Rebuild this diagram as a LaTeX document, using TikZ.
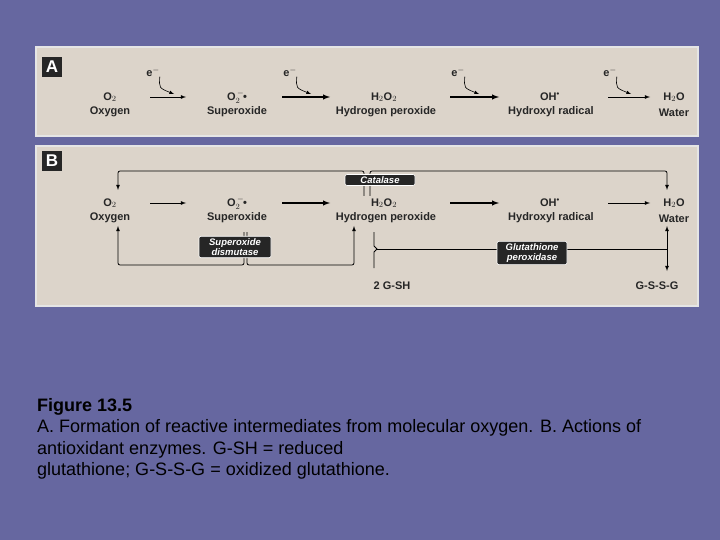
\documentclass[tikz,border=0pt]{standalone}
\usepackage{fontspec}
\setmainfont{Liberation Sans}
\definecolor{bgblue}{HTML}{6667A0}
\definecolor{panel}{HTML}{DCD4CA}
\begin{document}
\begin{tikzpicture}[x=1pt,y=-1pt,
  lbl/.style={font=\fontsize{11}{12}\selectfont\bfseries, text=black!85, inner sep=0pt},
  box/.style={fill=black!85, text=white, rounded corners=2pt, font=\fontsize{9.5}{10.5}\selectfont\bfseries\itshape, align=center, inner sep=2pt, draw=white, line width=0.6pt},
  tag/.style={fill=black!85, text=white, font=\fontsize{17}{17}\selectfont\bfseries, minimum size=20pt, inner sep=0pt},
  rx/.style={-latex, line width=0.8pt},
  ln/.style={line width=0.8pt},
  ee/.style={-latex, line width=0.6pt}]
\useasboundingbox (0,0) rectangle (720,540);
\fill[bgblue] (0,0) rectangle (720,540);
\fill[panel, draw=white!80!gray, line width=1.2pt] (36,47) rectangle (698,136);
\fill[panel, draw=white!80!gray, line width=1.2pt] (36,146) rectangle (698,306);
\node[tag] at (52,67) {A};
\node[tag] at (52,161) {B};
% Panel A
\foreach \y/\p in {97/a,203/b}{
  \node[lbl] (ox\p) at (110,\y) {O$_2$};
  \node[lbl] (su\p) at (237,\y) {O$_2^{\,-}$\hspace{-1pt}\textbullet};
  \node[lbl] (hp\p) at (384,\y) {H$_2$O$_2$};
  \node[lbl] (hr\p) at (550,\y) {OH\textsuperscript{\textbullet}};
  \node[lbl] (wa\p) at (674,\y) {H$_2$O};
  \node[lbl] (oxn\p) at (110,\y+15) {Oxygen};
  \node[lbl] (sun\p) at (237,\y+15) {Superoxide};
  \node[lbl] (hpn\p) at (386,\y+15) {Hydrogen peroxide};
  \node[lbl] (hrn\p) at (551,\y+15) {Hydroxyl radical};
  \node[lbl] (wan\p) at (674,\y+16) {Water};
  \coordinate (a1s\p) at (150,\y); \coordinate (a1e\p) at (186,\y);
  \coordinate (a2s\p) at (282,\y); \coordinate (a2e\p) at (330,\y);
  \coordinate (a3s\p) at (450,\y); \coordinate (a3e\p) at (499,\y);
  \coordinate (a4s\p) at (608,\y); \coordinate (a4e\p) at (650,\y);
  \draw[rx] (a1s\p) -- (a1e\p);
  \draw[rx, line width=1.4pt] (a2s\p) -- (a2e\p);
  \draw[rx, line width=1.4pt] (a3s\p) -- (a3e\p);
  \draw[rx] (a4s\p) -- (a4e\p);
}
\foreach \x/\i in {153/1,290/2,458/3,610/4}{
  \node[lbl] (e\i) at (\x,72) {e$^-$};
  \coordinate (t\i) at (\x+21,94);
  \draw[ee] (e\i.south east) .. controls (\x+6,88) .. (t\i);
}
% Panel B loops
\coordinate (c1) at (118,171); \coordinate (c2) at (364,171);
\coordinate (c3) at (370,171); \coordinate (c4) at (667,171);
\coordinate (c2b) at (364,196); \coordinate (c3b) at (370,196);
\draw[ln, rounded corners=2pt, -latex] (c2b) -- (c2) -- (c1) -- (118,190);
\draw[ln, rounded corners=2pt, -latex] (c3b) -- (c3) -- (c4) -- (667,190);
\node[box, minimum width=70pt] (cat) at (380,180) {Catalase};
\coordinate (s1) at (244,232); \coordinate (s2) at (247,232);
\draw[ln, rounded corners=2pt, -latex] (s1) -- (244,265) -- (118,265) -- (118,226);
\draw[ln, rounded corners=2pt, -latex] (s2) -- (247,265) -- (354,265) -- (354,226);
\node[box, minimum width=72pt] (sod) at (235,247) {Superoxide\\dismutase};
\coordinate (g1) at (374,232); \coordinate (g2) at (374,268);
\draw[ln] (g1) -- (374,246) -- (377,249) -- (374,252) -- (g2);
\coordinate (g3) at (667,249);
\draw[ln] (377,249) -- (g3);
\draw[ln, -latex] (g3) -- (667,226);
\draw[ln, -latex] (g3) -- (667,271);
\node[box, minimum width=70pt] (gpx) at (532,253) {Glutathione\\peroxidase};
\node[lbl] (gsh) at (392,286) {2 G-SH};
\node[lbl] (gssg) at (657,286) {G-S-S-G};
% caption
\node[anchor=north west, align=left, inner sep=0pt, font=\fontsize{18}{21.5}\selectfont] (cap) at (37,398)
 {\textbf{Figure 13.5}\\A. Formation of reactive intermediates from molecular oxygen. B. Actions of\\antioxidant enzymes. G-SH = reduced\\glutathione; G-S-S-G = oxidized glutathione.};
\end{tikzpicture}
\end{document}
